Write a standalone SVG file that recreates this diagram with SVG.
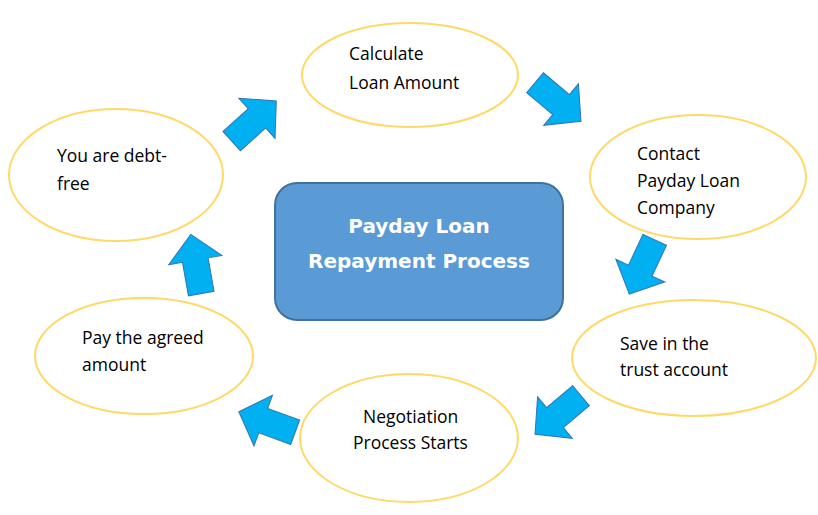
<svg xmlns="http://www.w3.org/2000/svg" width="818" height="515" viewBox="0 0 818 515">
<style>
.n{fill:#fff;stroke:#FFD966;stroke-width:2}
.t{font-family:"Open Sans","Liberation Sans",sans-serif;font-size:17.5px;fill:#000}
.a{fill:#00B0F0;stroke:#2E75B6;stroke-width:1}
</style>
<defs><path id="ar" d="M-30,-13 L4,-13 L4,-27 L30,0 L4,27 L4,13 L-30,13 Z"/></defs>
<rect width="818" height="515" fill="#fff"/>
<g id="center"><rect x="275" y="183" width="288" height="137" rx="22" fill="#5B9BD5" stroke="#41719C" stroke-width="2"/>
<text x="419" y="233" text-anchor="middle" font-family="'DejaVu Sans',sans-serif" font-weight="bold" font-size="20" fill="#fff">Payday Loan</text>
<text x="419" y="268" text-anchor="middle" font-family="'DejaVu Sans',sans-serif" font-weight="bold" font-size="20" fill="#fff">Repayment Process</text></g>
<g id="calc"><ellipse class="n" cx="410" cy="75" rx="108" ry="52"/><text class="t" x="349" y="60">Calculate</text><text class="t" x="349" y="89">Loan Amount</text></g>
<g id="contact"><ellipse class="n" cx="698" cy="177" rx="108" ry="62"/><text class="t" x="637" y="160">Contact</text><text class="t" x="637" y="187">Payday Loan</text><text class="t" x="637" y="214">Company</text></g>
<g id="save"><ellipse class="n" cx="694" cy="358" rx="122" ry="58"/><text class="t" x="620" y="350">Save in the</text><text class="t" x="620" y="376">trust account</text></g>
<g id="nego"><ellipse class="n" cx="409" cy="438" rx="109" ry="64"/><text class="t" x="363" y="423">Negotiation</text><text class="t" x="353" y="449">Process Starts</text></g>
<g id="pay"><ellipse class="n" cx="144" cy="356" rx="109" ry="58"/><text class="t" x="82" y="344">Pay the agreed</text><text class="t" x="82" y="371">amount</text></g>
<g id="free"><ellipse class="n" cx="116" cy="175" rx="107" ry="66"/><text class="t" x="57" y="162">You are debt-</text><text class="t" x="57" y="190">free</text></g>
<g id="connectors">
<use href="#ar" class="a" transform="translate(254,121) rotate(-42)"/>
<use href="#ar" class="a" transform="translate(558,102) rotate(40)"/>
<use href="#ar" class="a" transform="translate(642,267) rotate(115)"/>
<use href="#ar" class="a" transform="translate(558,415) rotate(140)"/>
<use href="#ar" class="a" transform="translate(267,422) rotate(200)"/>
<use href="#ar" class="a" transform="translate(196,264) rotate(-100)"/>
</g>
</svg>
